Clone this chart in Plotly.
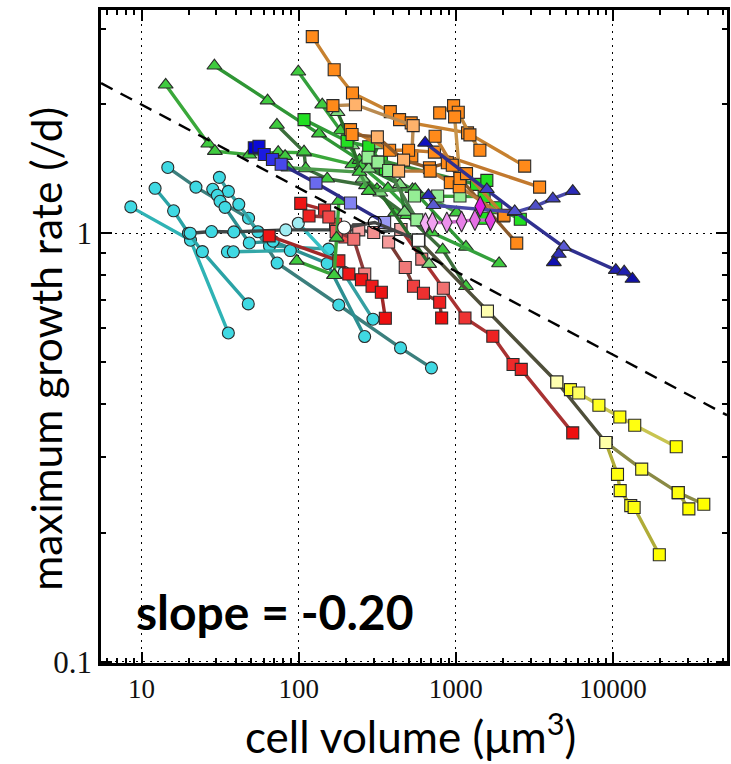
import plotly.graph_objects as go

# ---------------- data (cell volume in um^3, max growth rate per day) -------------
# cyan circles
cyA_x = [8.55, 20.5, 35.7];                  cyA_y = [1.152, 0.963, 0.585]
cyB_x = [12.2, 16.0, 19.9, 24.4, 47.8];      cyB_y = [1.273, 1.128, 1.0, 0.906, 0.684]
cyC_x = [14.7, 22.2, 48.0, 73.0, 180, 445, 700]
cyC_y = [1.424, 1.281, 1.084, 0.852, 0.680, 0.540, 0.485]
cyD_x = [31.3, 35.7, 41.6, 55.1, 65.2, 155, 297]
cyD_y = [1.35, 1.252, 1.168, 1.008, 0.934, 0.918, 0.630]
cyE_x = [28.4, 30.4, 31.6, 34.0, 48.5, 68.8, 152, 263]
cyE_y = [1.266, 1.226, 1.187, 1.149, 0.949, 0.958, 0.850, 0.574]
cyG_x = [35.2, 38.4, 88.5];                  cyG_y = [0.905, 0.905, 0.911]
cyH_x = [99.5, 195];                         cyH_y = [1.055, 0.810]
# dark horizontal series (cyan circles then pink squares)
mix_x = [20.4, 27.9, 38.7, 82.8, 241.3, 300.3, 447.1]
mix_y = [1.0, 1.009, 1.007, 1.018, 1.018, 1.004, 1.020]

# green triangles
T1_x = [14.25, 26.6, 29.3, 48.5, 74.1, 108.2, 220, 315, 412]
T1_y = [2.22, 1.617, 1.554, 1.524, 1.546, 1.541, 1.447, 1.266, 1.117]
T2_x = [29.1, 63.4, 134.7, 243.8, 530, 1160];        T2_y = [2.459, 2.039, 1.708, 1.481, 1.266, 0.929]
T3_x = [99.5, 141.3, 184.8, 251, 370, 703, 1886];    T3_y = [2.381, 1.995, 1.736, 1.434, 1.273, 1.004, 0.850]
T4_x = [72.7, 108.2, 110.9, 152, 268.4, 488, 825, 1160]
T4_y = [1.789, 1.549, 1.416, 1.340, 1.293, 1.101, 0.915, 0.752]
T5_x = [176.8, 218.8, 255.7, 331, 676.7];            T5_y = [1.915, 1.602, 1.340, 1.243, 0.847]
T6_x = [82.0, 86.1, 243.8, 279.2, 551.6, 1012];      T6_y = [1.513, 1.421, 1.389, 1.254, 1.266, 1.117]
T7_x = [97.3, 168.3];                                T7_y = [0.862, 0.798]
T8_x = [180.3, 174.3, 168.3];                        T8_y = [1.189, 0.975, 0.798]
T9_x = [319.7, 279.2, 440.6, 472];                   T9_y = [1.602, 1.414, 1.300, 1.121]

# blue squares / blue triangles
bs_x = [52.2, 55.9, 60.4, 68.1, 77.4, 128.9, 213.8, 352.5]
bs_y = [1.582, 1.596, 1.526, 1.486, 1.449, 1.309, 1.176, 1.059]
bt1_x = [638, 1576, 2371, 4865, 10430, 11790, 13310]
bt1_y = [1.625, 1.266, 1.125, 0.929, 0.820, 0.813, 0.782]
bt1b_x = [4865, 4524, 4206];                         bt1b_y = [0.929, 0.894, 0.855]
bt2_x = [669.6, 720.4, 2371, 3220, 4145, 5548];      bt2_y = [1.226, 1.162, 1.119, 1.157, 1.204, 1.254]

# orange squares
o1_x = [122.1, 168.3, 220, 383, 438.7, 520.3, 1187.5, 2744]
o1_y = [2.876, 2.406, 2.125, 1.922, 1.841, 1.809, 1.715, 1.434]
o2_x = [165.2, 229.9, 535.6, 524.8];                 o2_y = [1.985, 1.995, 1.783, 1.513]
o3_x = [789.6, 968, 1037, 1230, 1423];               o3_y = [1.909, 1.985, 1.915, 1.696, 1.562]
o4_x = [213.8, 379.2, 500.5, 730.9, 3414];           o4_y = [1.745, 1.562, 1.562, 1.546, 1.281]
o5_x = [218.8, 316.9, 465.2, 679.6, 883.5, 1063, 2442]
o5_y = [1.699, 1.678, 1.481, 1.421, 1.460, 1.342, 0.948]
o6_x = [432.4, 686.5, 923, 1052, 2008];              o6_y = [1.396, 1.396, 1.312, 1.284, 1.097]
o7_x = [982.6, 1063];                                o7_y = [1.868, 1.342]
o8_x = [738.5, 950, 1170, 2028];                     o8_y = [1.684, 1.441, 1.377, 1.101]

# red squares
r1_x = [103.1, 146.3, 171.8, 196.7];                 r1_y = [1.174, 1.133, 1.049, 0.980]
r2_x = [116.4, 155.7, 173.3, 224.3, 263.4];          r2_y = [1.097, 1.091, 1.009, 0.968, 0.803]
r4_x = [64.9, 180.3, 208.5, 251, 293.1, 336, 356.1]; r4_y = [0.986, 0.862, 0.803, 0.779, 0.752, 0.728, 0.633]
r6_x = [373.6, 476.8, 538, 622.6, 789.6, 812.8];     r6_y = [0.954, 0.832, 0.752, 0.724, 0.690, 0.634]
r7_x = [447.1, 607.4, 833.3, 1144, 1720, 2313, 2610, 5548]
r7_y = [1.020, 0.870, 0.744, 0.634, 0.575, 0.494, 0.481, 0.342]

# yellow squares
y1_x = [578.7, 1590, 4393, 9016];                    y1_y = [0.963, 0.658, 0.4496, 0.3248]
y1b_x = [9016, 10690, 11120, 12980, 13640, 19730];   y1b_y = [0.3248, 0.2736, 0.2508, 0.2314, 0.2290, 0.1777]
y2_x = [4393, 5365, 6055, 8140, 11060, 13760, 25280]
y2_y = [0.4496, 0.4314, 0.4238, 0.3966, 0.3726, 0.3563, 0.3174]
y3_x = [9016, 15240, 26030, 37860];                  y3_y = [0.3248, 0.2815, 0.2481, 0.2331]
y3b_x = [26030, 30420];                              y3b_y = [0.2481, 0.2273]

# dark series (white / black markers)
k_x = [194.7, 304.8, 578.7];                         k_y = [1.031, 1.059, 0.963]

# green squares
gsa_x = [108.2, 203.4, 279.2, 336, 356.1];           gsa_y = [1.841, 1.639, 1.591, 1.465, 1.414]
gse_x = [276.3, 1354, 1576];                         gse_y = [1.504, 1.300, 1.328]
gsb_x = [546, 766.6, 1063, 1515];                    gsb_y = [1.221, 1.221, 1.221, 1.217]
gsd_x = [1472, 1797, 2573];                          gsd_y = [1.084, 1.147, 1.078]
gsf_x = [319.7, 373.6, 564.7];                       gsf_y = [1.465, 1.401, 1.074]

# magenta diamonds
dm_x = [641, 710, 877, 1088, 1323, 1661];            dm_y = [1.055, 1.059, 1.059, 1.065, 1.074, 1.072]
dm2_x = [1430];                                      dm2_y = [1.154]

# fitted power law (slope = -0.20)
fit_x = [5.53, 53200];                               fit_y = [2.24, 0.376]

x_ticks = [10, 100, 1000, 10000]
x_ticktext = ["10", "100", "1000", "10000"]
y_ticks = [0.1, 1]
y_ticktext = ["0.1", "1"]

# ---------------- figure ----------------
fig = go.Figure()
OUT = "#2a2a2a"


def add(x, y, symbol, fill, line_color, size=12, lw=3.4, mode="lines+markers"):
    fig.add_trace(go.Scatter(
        x=x, y=y, mode=mode,
        line=dict(color=line_color, width=lw),
        marker=dict(symbol=symbol, size=size, color=fill, line=dict(color=OUT, width=1.1)),
        hoverinfo="skip"))


CY = "#3fd9e3"
CYL = "#9fecf2"
add(cyA_x, cyA_y, "circle", CY, "#2fb3b5")
add(cyB_x, cyB_y, "circle", CY, "#2aa3a6")
add(cyC_x, cyC_y, "circle", CY, "#3b7f7d")
add(cyD_x, cyD_y, "circle", CY, "#35a0a2")
add(cyE_x, cyE_y, "circle", CY, "#2c8f91")
add(cyG_x, cyG_y, "circle", CY, "#33a7a8")
add(cyH_x, cyH_y, "circle", CYL, "#35c0c4")
add(mix_x, mix_y, ["circle"] * 4 + ["square"] * 3,
    [CY, CY, CY, CYL, "#f4a0a0", "#f29090", "#f4a5a5"], "#3e4646")

add(r1_x, r1_y, "square", ["#ee1515", "#ee2a2a", "#f04040", "#f05050"], "#a52a2a")
add(r2_x, r2_y, "square", ["#ee2020", "#f04848", "#f06060", "#f07070", "#f08080"], "#8f3a3a")
add(r4_x, r4_y, "square", ["#ee1515", "#ee2020", "#ee1818", "#ee1515", "#ee1a1a", "#ee1515", "#ee1010"], "#a02828")
add(r6_x, r6_y, "square", ["#f59a9a", "#f07878", "#ee4040", "#ee3030", "#ee2020", "#ee1010"], "#7a3a34")
add(r7_x, r7_y, "square", ["#f4a5a5", "#f28080", "#f07070", "#ee3333", "#ee2222", "#ee2a2a", "#ee2020", "#ee1010"], "#a83232")

TRI = "#3fcb3f"
TRIL = "#7fdc7f"
add(T1_x, T1_y, "triangle-up", TRI, "#3aa83a", size=13)
add(T2_x, T2_y, "triangle-up", TRI, "#2f9635", size=13)
add(T3_x, T3_y, "triangle-up", TRI, "#34a03c", size=13)
add(T4_x, T4_y, "triangle-up", TRI, "#3b6e3b", size=13)
add(T5_x, T5_y, "triangle-up", TRIL, "#2a6a2a", size=13)
add(T6_x, T6_y, "triangle-up", TRI, "#4a9a4a", size=13)
add(T7_x, T7_y, "triangle-up", TRI, "#39a339", size=13)
add(T8_x, T8_y, "triangle-up", TRI, "#39a339", size=13)
add(T9_x, T9_y, "triangle-up", TRIL, "#2e7d32", size=13)

GS = "#22e022"
GSL = "#95ee95"
add(gsa_x, gsa_y, "square", GS, "#2f9a35")
add(gse_x, gse_y, "square", [GSL, GS, GS], "#3a8a3a")
add(gsb_x, gsb_y, "square", [GSL, GSL, GSL, GS], "#3a9f3a")
add(gsd_x, gsd_y, "square", GS, "#3a9f3a")
add(gsf_x, gsf_y, "square", GSL, "#4a7a4a")

OR = "#ff8a1a"
ORL = "#ffb26b"
add(o1_x, o1_y, "square", OR, "#c7812f")
add(o2_x, o2_y, "square", [OR, ORL, ORL, OR], "#b98a50")
add(o3_x, o3_y, "square", OR, "#c4883a")
add(o4_x, o4_y, "square", OR, "#c2792e")
add(o5_x, o5_y, "square", [OR, ORL, ORL, OR, OR, OR, OR], "#8b5a2b")
add(o6_x, o6_y, "square", [ORL, OR, OR, OR, OR], "#b8783a")
add(o7_x, o7_y, "square", OR, "#c8944a")
add(o8_x, o8_y, "square", OR, "#bf7d33")

add(bs_x, bs_y, "square",
    ["#0000cc", "#0a0ad8", "#1a1ae0", "#3030e6", "#4848ea", "#6a6aee", "#8282f2", "#9a9af4"], "#2b2b88")
add(bt2_x, bt2_y, "triangle-up", ["#2a2ab8", "#5a5ad0", "#6060d0", "#5050c8", "#4040c0", "#2a2ab8"], "#4848a8", size=13)
add(bt1_x, bt1_y, "triangle-up", ["#1010c0", "#4040c8", "#5050d0", "#5a5ad4", "#2020b0", "#2020b0", "#1010a8"], "#303090", size=13)
add(bt1b_x, bt1b_y, "triangle-up", ["#5a5ad4", "#3030b8", "#1010b0"], "#303090", size=13)

add(dm_x, dm_y, "diamond-tall", ["#f5b0f5", "#f0a0f0", "#ec90ec", "#e880e8", "#e470e4", "#e040e0"], "#c868c8", size=15)
add(dm2_x, dm2_y, "diamond-tall", "#e020e0", "#c868c8", size=15, mode="markers")

add(k_x, k_y, ["circle", "circle-open", "square"], ["white", "black", "white"], "#454545", size=13)
add(y1_x, y1_y, "square", ["white", "#ffffb0", "#ffffb0", "#ffffa8"], "#4f4f3a")
add(y1b_x, y1b_y, "square", ["#ffffa8", "#ffff10", "#ffff10", "#ffff10", "#ffff10", "#ffff00"], "#b0ac38")
add(y2_x, y2_y, "square", ["#ffffb0", "#ffff20", "#ffff60", "#ffff20", "#ffff10", "#ffff10", "#ffff00"], "#c8c450")
add(y3_x, y3_y, "square", ["#ffffa8", "#ffff30", "#ffff10", "#ffff00"], "#8a8a45")
add(y3b_x, y3b_y, "square", ["#ffff10", "#ffff00"], "#a8a840")

# fitted line
fig.add_trace(go.Scatter(x=fit_x, y=fit_y, mode="lines",
                         line=dict(color="black", width=2.4, dash="13px,9px"), hoverinfo="skip"))

x_minor = [m * 10 ** e for e in range(0, 5) for m in range(2, 10)]
y_minor = [m * 10 ** e for e in (-1, 0) for m in range(2, 10)]

axis_common = dict(
    type="log", showline=True, linecolor="black", linewidth=2.5, mirror="allticks",
    ticks="inside", ticklen=11, tickwidth=1.6, tickcolor="black",
    showgrid=True, gridcolor="black", gridwidth=1.2, griddash="2px,5px", zeroline=False,
    tickmode="array",
)
fig.update_xaxes(**axis_common, range=[0.7422, 4.7258], tickvals=x_ticks, ticktext=x_ticktext,
                 tickfont=dict(family="Liberation Serif", size=27, color="#111"),
                 minor=dict(tickvals=x_minor, ticks="inside", ticklen=5, tickwidth=1.5,
                            tickcolor="black", showgrid=False))
fig.update_yaxes(**axis_common, range=[-1.003, 0.5209], tickvals=y_ticks, ticktext=y_ticktext,
                 tickfont=dict(family="Liberation Serif", size=31, color="#111"),
                 minor=dict(tickvals=y_minor, ticks="inside", ticklen=5, tickwidth=1.5,
                            tickcolor="black", showgrid=False))

TF = "Lato"
fig.update_layout(
    width=731, height=764, margin=dict(l=101, r=1, t=10, b=101),
    plot_bgcolor="white", paper_bgcolor="white", showlegend=False,
    font=dict(family="Liberation Serif", size=27, color="#111"),
    annotations=[
        dict(text="maximum growth rate (/d)", textangle=-90, xref="paper", yref="paper",
             x=-0.088, y=0.481, xanchor="center", yanchor="middle", showarrow=False,
             font=dict(family=TF, size=42.5, color="black")),
        dict(text="cell volume (μm<sup>3</sup>)", xref="paper", yref="paper",
             x=0.495, y=-0.108, xanchor="center", yanchor="middle", showarrow=False,
             font=dict(family=TF, size=44, color="black")),
        dict(text="<b>slope = -0.20</b>", xref="paper", yref="paper",
             x=0.052, y=0.079, xanchor="left", yanchor="middle", showarrow=False,
             font=dict(family=TF, size=48, color="black")),
    ],
)

fig.write_html("out.html")
